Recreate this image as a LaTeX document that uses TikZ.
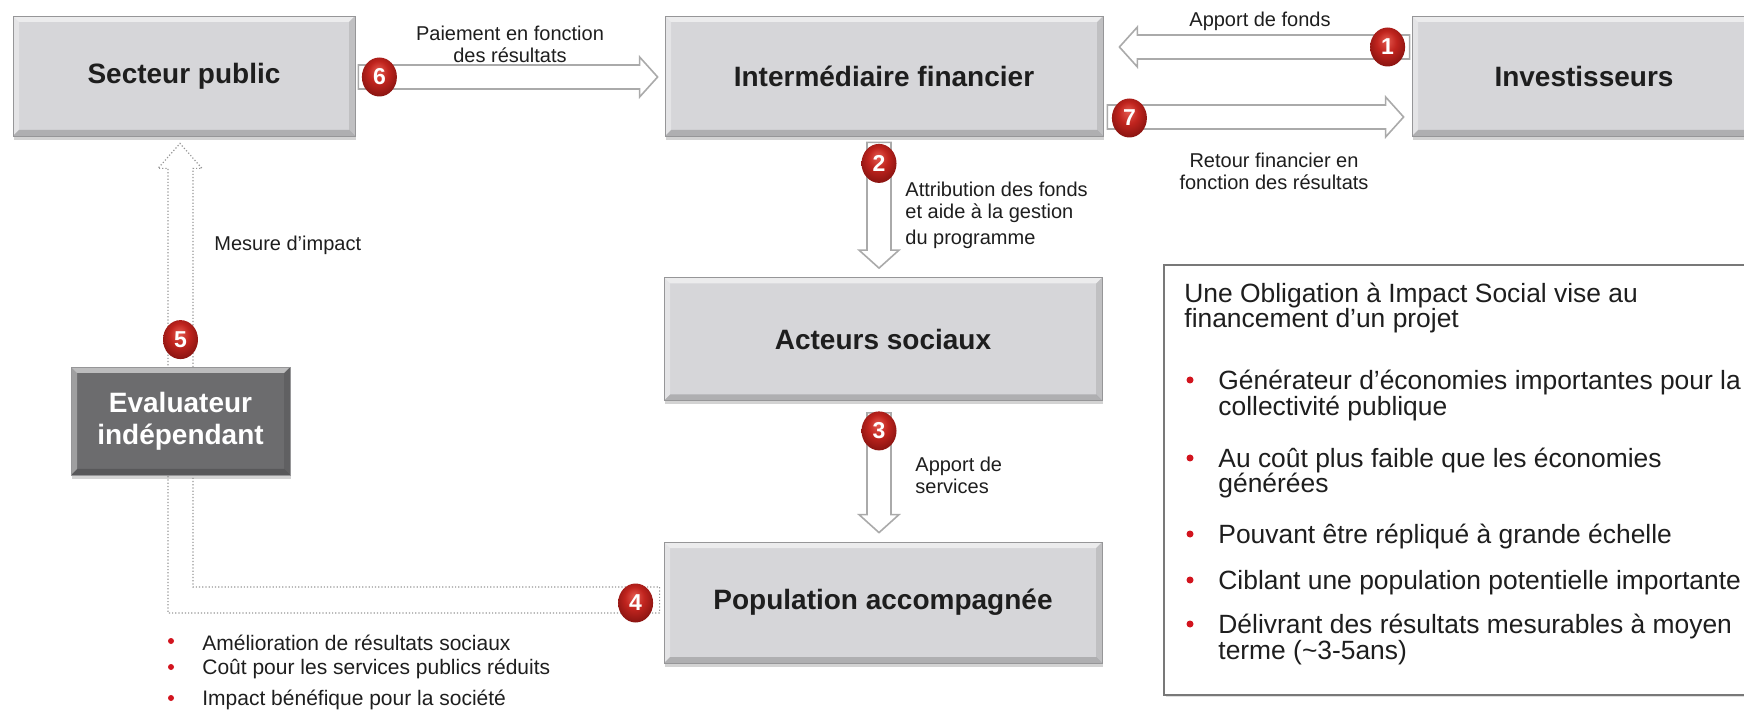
\documentclass[tikz,border=0pt]{standalone}
\usepackage{fontspec}
\setmainfont{Liberation Sans}
\usetikzlibrary{calc,shapes.geometric,shadows}
\definecolor{boxgray}{RGB}{214,214,217}
\definecolor{boxline}{RGB}{150,150,152}
\definecolor{evalgray}{RGB}{108,108,110}
\definecolor{badgehi}{RGB}{228,90,80}
\definecolor{badgemid}{RGB}{192,36,30}
\definecolor{badgedark}{RGB}{118,14,12}
\definecolor{bulletred}{RGB}{210,20,30}
\definecolor{arrgray}{RGB}{170,170,170}
\definecolor{dotgray}{RGB}{150,150,150}
\definecolor{txt}{RGB}{30,30,30}
\definecolor{infoline}{RGB}{120,120,120}

\pgfdeclareradialshading{badgeshade}{\pgfpoint{-2bp}{9bp}}{color(0bp)=(badgehi); color(14bp)=(badgemid); color(34bp)=(badgedark); color(50bp)=(badgedark)}

\newcommand\blockarrow[2]{%
  \coordinate (bahead) at ($(#2)!9pt!(#1)$);
  \draw[blockarr] ($(#1)!6pt!90:(#2)$) -- ($(bahead)!6pt!90:(#2)$) -- ($(bahead)!10pt!90:(#2)$) -- (#2)
     -- ($(bahead)!10pt!-90:(#2)$) -- ($(bahead)!6pt!-90:(#2)$) -- ($(#1)!6pt!-90:(#2)$) -- cycle;}

\tikzset{
  bevel/.style={path picture={
    \fill[white,opacity=.55] (path picture bounding box.north west) -- (path picture bounding box.north east)
       -- ([xshift=-3pt,yshift=-3pt]path picture bounding box.north east) -- ([xshift=3pt,yshift=-3pt]path picture bounding box.north west) -- cycle;
    \fill[white,opacity=.35] (path picture bounding box.north west) -- (path picture bounding box.south west)
       -- ([xshift=3pt,yshift=3pt]path picture bounding box.south west) -- ([xshift=3pt,yshift=-3pt]path picture bounding box.north west) -- cycle;
    \fill[black,opacity=.18] (path picture bounding box.south west) -- (path picture bounding box.south east)
       -- ([xshift=-3pt,yshift=3pt]path picture bounding box.south east) -- ([xshift=3pt,yshift=3pt]path picture bounding box.south west) -- cycle;
    \fill[black,opacity=.10] (path picture bounding box.north east) -- (path picture bounding box.south east)
       -- ([xshift=-3pt,yshift=3pt]path picture bounding box.south east) -- ([xshift=-3pt,yshift=-3pt]path picture bounding box.north east) -- cycle;
  }},
  box/.style={draw=boxline, line width=0.4pt, fill=boxgray, bevel, text=txt,
    font=\fontsize{14}{16}\selectfont\bfseries, align=center,
    drop shadow={shadow xshift=0.6pt,shadow yshift=-1.8pt,opacity=0.35}},
  blockarr/.style={draw=arrgray, line width=0.8pt, fill=white, line join=miter},
  dotarrow/.style={draw=dotgray, line width=0.6pt, densely dotted},
  badge/.style={ellipse, minimum width=17.5pt, minimum height=19.5pt, inner sep=0pt,
    shading=badgeshade, text=white, font=\fontsize{11.5}{11.5}\selectfont\bfseries},
  lbl/.style={inner sep=0pt, text=txt, font=\fontsize{10}{11}\selectfont},
  sml/.style={inner sep=0pt, anchor=west, text=txt, font=\fontsize{10.5}{12}\selectfont},
  info/.style={inner sep=0pt, anchor=west, text=txt, font=\fontsize{13.2}{15}\selectfont},
  rdot/.style={circle, fill=bulletred, inner sep=0pt, minimum size=#1},
  rdot/.default=3pt,
}

\begin{document}
\begin{tikzpicture}[x=0.5pt,y=-0.5pt]
\useasboundingbox (0,0) rectangle (1744,710);
\clip (0,0) rectangle (1744,710);

% main boxes
\node[box, minimum width=171pt, minimum height=60pt] (sect) at (184,76) {Secteur public};
\node[box, minimum width=219pt, minimum height=60pt] (inter) at (884,76) {Intermédiaire financier};
\node[box, minimum width=172pt, minimum height=60pt] (inv) at (1584,76) {Investisseurs};
\node[box, minimum width=219pt, minimum height=61.5pt] (act) at (883,339) {Acteurs sociaux};

% dotted L-shaped arrow (4 -> 5 -> secteur public)
\coordinate (d5tip) at ($(sect.south)+(-4,7)$);
\node[box, minimum width=219pt, minimum height=60.5pt] (pop) at (883,602.5) {Population accompagnée};
\draw[dotarrow] ($(pop.west)+(-4,10.5)$) -| ($(d5tip)+(-12,25)$) -- ($(d5tip)+(-22,25)$) -- (d5tip)
   -- ($(d5tip)+(22,25)$) -- ($(d5tip)+(13,25)$) |- ($(pop.west)+(-4,-15.5)$) -- cycle;

\node[box, fill=evalgray, text=white, minimum width=109.5pt, minimum height=54pt] (eval) at (180.5,421) {Evaluateur\\indépendant};

% info box
\node[draw=infoline, line width=0.7pt, fill=white, minimum width=298pt, minimum height=215pt,
  drop shadow={shadow xshift=0.8pt,shadow yshift=-1.2pt,opacity=0.25}] (info) at (1462,480) {};

% block arrows
\coordinate (a6s) at ($(sect.east)+(3,1)$);
\coordinate (a6e) at ($(inter.west)+(-7,1)$);
\coordinate (a1s) at ($(inv.west)+(-2,-29)$);
\coordinate (a1e) at ($(inter.east)+(16,-29)$);
\coordinate (a7s) at ($(inter.east)+(4,41)$);
\coordinate (a7e) at ($(inv.west)+(-8,41)$);
\coordinate (a2s) at ($(inter.south)+(-5,6)$);
\coordinate (a2e) at ($(act.north)+(-4,-9)$);
\coordinate (a3s) at ($(act.south)+(-4,12)$);
\coordinate (a3e) at ($(pop.north)+(-4,-9)$);
\blockarrow{a6s}{a6e}
\blockarrow{a1s}{a1e}
\blockarrow{a7s}{a7e}
\blockarrow{a2s}{a2e}
\blockarrow{a3s}{a3e}

% badges
\node[badge] (b6) at ($(sect.east)+(24,1)$) {6};
\node[badge] (b1) at ($(inv.west)+(-24,-29)$) {1};
\node[badge] (b7) at ($(inter.east)+(26,42)$) {7};
\node[badge] (b2) at ($(inter.south)+(-5,27)$) {2};
\node[badge] (b3) at ($(act.south)+(-4,30)$) {3};
\node[badge] (b4) at ($(pop.west)+(-28,0.5)$) {4};
\node[badge] (b5) at ($(eval.north)+(0,-27)$) {5};

% arrow labels
\node[lbl, align=center] (l6) at (510,44) {Paiement en fonction\\des résultats};
\node[lbl] (l1) at (1260,21) {Apport de fonds};
\node[lbl, align=center] (l7) at (1274,171) {Retour financier en\\fonction des résultats};
\node[lbl, align=left, anchor=west] (l2) at (905,215) {Attribution des fonds\\et aide à la gestion\\[2pt]du programme};
\node[lbl, align=left, anchor=west] (l3) at (915,475) {Apport de\\services};
\node[lbl, anchor=west] (l5) at (214,245) {Mesure d’impact};

% bullets under the dotted arrow
\node[rdot] (r1d) at (171,641) {};
\node[sml] (r1) at (202,643) {Amélioration de résultats sociaux};
\node[rdot] (r2d) at (171,667) {};
\node[sml] (r2) at (202,669) {Coût pour les services publics réduits};
\node[rdot] (r3d) at (171,698) {};
\node[sml] (r3) at (202,700) {Impact bénéfique pour la société};

% info box text
\node[info] (t1) at (1184,296) {Une Obligation à Impact Social vise au};
\node[info] (t2) at (1184,321) {financement d’un projet};
\node[rdot=3.5pt] (i1d) at (1190,380) {};
\node[info] (i1a) at (1218,383) {Générateur d’économies importantes pour la};
\node[info] (i1b) at (1218,409) {collectivité publique};
\node[rdot=3.5pt] (i2d) at (1190,458) {};
\node[info] (i2a) at (1218,461) {Au coût plus faible que les économies};
\node[info] (i2b) at (1218,486) {générées};
\node[rdot=3.5pt] (i3d) at (1190,534) {};
\node[info] (i3) at (1218,537) {Pouvant être répliqué à grande échelle};
\node[rdot=3.5pt] (i4d) at (1190,580) {};
\node[info] (i4) at (1218,583) {Ciblant une population potentielle importante};
\node[rdot=3.5pt] (i5d) at (1190,624) {};
\node[info] (i5a) at (1218,627) {Délivrant des résultats mesurables à moyen};
\node[info] (i5b) at (1218,653) {terme (\textasciitilde3-5ans)};
\end{tikzpicture}
\end{document}
